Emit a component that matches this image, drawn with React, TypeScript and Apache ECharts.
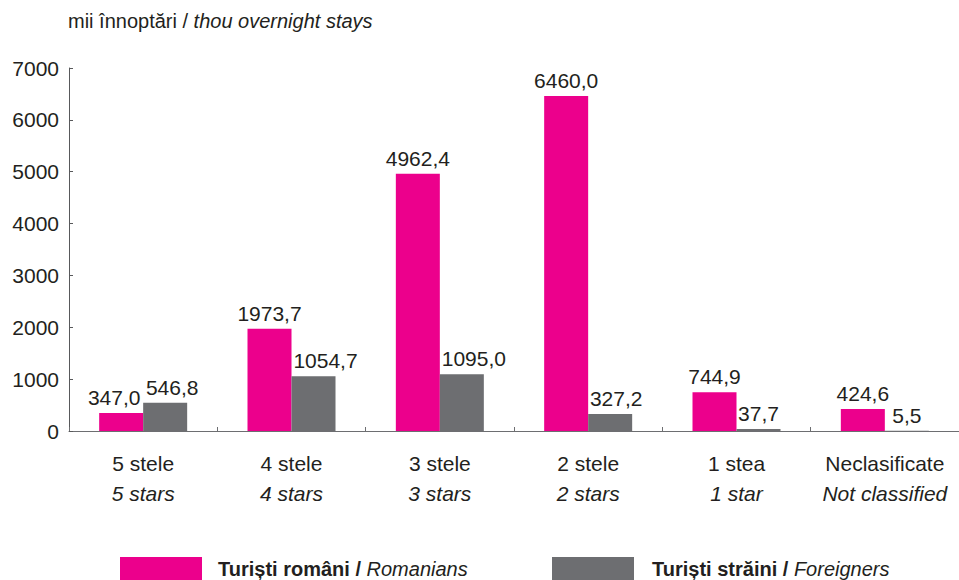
import React, { useEffect, useRef } from "react";
import * as echarts from "echarts";

const categoriesRo = ["5 stele", "4 stele", "3 stele", "2 stele", "1 stea", "Neclasificate"];
const categoriesEn = ["5 stars", "4 stars", "3 stars", "2 stars", "1 star", "Not classified"];
const romanians = [347.0, 1973.7, 4962.4, 6460.0, 744.9, 424.6];
const foreigners = [546.8, 1054.7, 1095.0, 327.2, 37.7, 5.5];
const yTicks = [0, 1000, 2000, 3000, 4000, 5000, 6000, 7000];

// horizontal nudges of value labels (style only), to avoid overlaps as in the original
const roLabelShift = [-7, 0, 0, 0, 0, 0];
const foLabelShift = [7, 12, 12, 6, 0, 0];

const FONT = "'Liberation Sans', Arial, Helvetica, sans-serif";
const PINK = "#EC008C";
const GREY = "#6D6E71";
const TEXT = "#231F20";

export default function App() {
  const ref = useRef<HTMLDivElement>(null);
  useEffect(() => {
    if (!ref.current) return;
    const chart = echarts.init(ref.current, undefined, { renderer: "svg" });
    const fmt = (v: number) => v.toFixed(1).replace(".", ",");
    const labelBase = {
      show: true,
      position: "top",
      distance: 5,
      fontFamily: FONT,
      fontSize: 21,
      color: TEXT,
      formatter: (p: any) => fmt(p.value),
    };
    chart.setOption({
      animation: false,
      textStyle: { fontFamily: FONT },
      title: {
        text: "{a|mii înnoptări / }{b|thou overnight stays}",
        left: 68,
        top: 11,
        padding: 0,
        textStyle: {
          fontWeight: "normal",
          rich: {
            a: { fontFamily: FONT, fontSize: 20, fontWeight: "normal", color: TEXT },
            b: { fontFamily: FONT, fontSize: 20, fontWeight: "normal", color: TEXT, fontStyle: "italic" },
          },
        },
      },
      grid: { left: 69, right: 0, top: 68, bottom: 149, containLabel: false },
      legend: [
        {
          data: ["Turiști români"],
          left: 120,
          top: 557,
          padding: 0,
          itemWidth: 82,
          itemHeight: 24,
          icon: "rect",
          formatter: () => "{a|Turiști români / }{b|Romanians}",
          textStyle: {
            rich: {
              a: { fontFamily: FONT, fontSize: 20, fontWeight: "bold", color: TEXT, padding: [0, 0, 0, 11] },
              b: { fontFamily: FONT, fontSize: 20, fontStyle: "italic", color: TEXT },
            },
          },
        },
        {
          data: ["Turiști străini"],
          left: 552,
          top: 557,
          padding: 0,
          itemWidth: 82,
          itemHeight: 24,
          icon: "rect",
          formatter: () => "{a|Turiști străini / }{b|Foreigners}",
          textStyle: {
            rich: {
              a: { fontFamily: FONT, fontSize: 20, fontWeight: "bold", color: TEXT, padding: [0, 0, 0, 13] },
              b: { fontFamily: FONT, fontSize: 20, fontStyle: "italic", color: TEXT },
            },
          },
        },
      ],
      xAxis: {
        type: "category",
        data: categoriesRo,
        axisLine: { lineStyle: { color: "#6D6E71", width: 1 } },
        axisTick: { show: true, inside: true, length: 4, lineStyle: { color: "#6D6E71" } },
        axisLabel: {
          margin: 17,
          interval: 0,
          formatter: (v: string) => {
            const i = categoriesRo.indexOf(v);
            return `{a|${v}}\n{b|${categoriesEn[i]}}`;
          },
          rich: {
            a: { fontFamily: FONT, fontSize: 21, color: TEXT, lineHeight: 30 },
            b: { fontFamily: FONT, fontSize: 21, color: TEXT, fontStyle: "italic", lineHeight: 30 },
          },
        },
      },
      yAxis: {
        type: "value",
        min: 0,
        max: yTicks[yTicks.length - 1],
        interval: 1000,
        splitLine: { show: false },
        axisLine: { show: true, lineStyle: { color: "#58595B", width: 1 } },
        axisTick: { show: true, inside: true, length: 4, lineStyle: { color: "#58595B" } },
        axisLabel: {
          margin: 10,
          fontFamily: FONT,
          fontSize: 21,
          color: TEXT,
          formatter: (v: number) => String(v),
        },
      },
      series: [
        {
          name: "Turiști români",
          type: "bar",
          data: romanians.map((v, i) => ({ value: v, label: { offset: [roLabelShift[i], 0] } })),
          barWidth: 44,
          barGap: "0%",
          itemStyle: { color: PINK },
          label: labelBase,
        },
        {
          name: "Turiști străini",
          type: "bar",
          data: foreigners.map((v, i) => ({ value: v, label: { offset: [foLabelShift[i], 0] } })),
          barWidth: 44,
          barGap: "0%",
          itemStyle: { color: GREY },
          label: labelBase,
        },
      ],
    });
    return () => chart.dispose();
  }, []);
  return <div ref={ref} style={{ width: 959, height: 580, position: "absolute", left: 0, top: 0 }} />;
}
